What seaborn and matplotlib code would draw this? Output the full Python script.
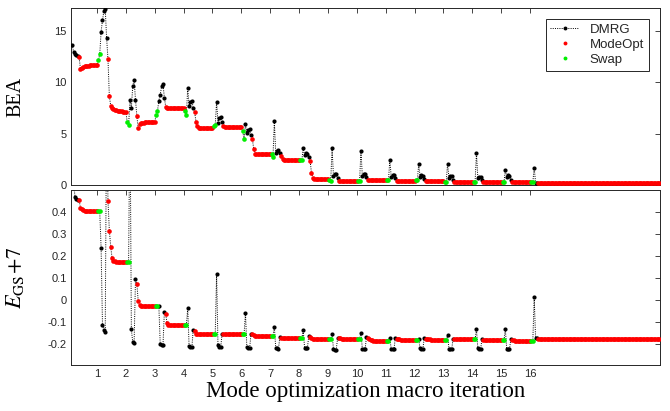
import numpy as np
import pandas as pd
import matplotlib
matplotlib.use("Agg")
import matplotlib.pyplot as plt
import seaborn as sns
from matplotlib.lines import Line2D

# ---------------- data ----------------
# one macro iteration = 21 optimisation steps: 2 Swap, n DMRG sweeps, ModeOpt rest
STEPS_PER_ITER = 21
iterations = list(range(17))

swap_bea = [[], [12.1, 12.7], [6.1, 5.8], [6.8, 7.2], [7.2, 6.8], [5.75, 5.8],
            [5.2, 4.45], [3.0, 2.7], [2.45, 2.4], [0.5, 0.42], [0.42, 0.42],
            [0.45, 0.45], [0.45, 0.45], [0.3, 0.3], [0.3, 0.3], [0.26, 0.26],
            [0.26, 0.26]]
swap_egs = [[], [0.403, 0.403], [0.173, 0.173], [-0.029, -0.029], [-0.115, -0.115],
            [-0.156, -0.156], [-0.153, -0.153], [-0.165, -0.165], [-0.174, -0.174],
            [-0.176, -0.176], [-0.176, -0.176], [-0.185, -0.185], [-0.182, -0.182],
            [-0.18, -0.18], [-0.179, -0.179], [-0.183, -0.183], [-0.185, -0.185]]

dmrg_bea = [
    [13.6, 12.9, 12.75, 12.6, 12.5],
    [14.9, 16.0, 16.9, 17.1, 14.3],
    [8.3, 7.5, 9.6, 10.2, 8.3],
    [8.2, 8.75, 9.6, 9.8, 8.5],
    [9.4, 7.7, 8.1, 8.2, 7.5],
    [8.1, 6.05, 6.5, 6.6, 6.1],
    [5.9, 5.05, 5.3, 5.4, 4.85],
    [6.2, 3.1, 3.35, 3.4, 3.1],
    [3.6, 2.9, 3.1, 3.0, 2.7],
    [3.55, 0.88, 1.05, 1.08, 0.66],
    [3.33, 0.88, 1.1, 1.05, 0.81],
    [2.45, 0.81, 1.0, 0.95, 0.65],
    [2.03, 0.82, 1.0, 0.9, 0.6],
    [2.05, 0.72, 0.88, 0.85, 0.52],
    [3.1, 0.72, 0.82, 0.82, 0.5],
    [1.44, 0.82, 0.98, 0.91, 0.49],
    [1.7, 0.23, 0.2],
]
dmrg_egs = [
    [0.62, 0.53, 0.47, 0.458, 0.455],
    [0.236, -0.114, -0.136, -0.144, 0.9],
    [0.9, -0.133, -0.192, -0.197, 0.094],
    [-0.029, -0.2, -0.206, -0.206, -0.053],
    [-0.038, -0.21, -0.214, -0.215, -0.135],
    [0.12, -0.206, -0.214, -0.215, -0.152],
    [-0.058, -0.215, -0.218, -0.22, -0.155],
    [-0.121, -0.217, -0.22, -0.222, -0.167],
    [-0.136, -0.218, -0.22, -0.22, -0.165],
    [-0.152, -0.223, -0.226, -0.226, -0.173],
    [-0.149, -0.221, -0.224, -0.224, -0.168],
    [-0.171, -0.223, -0.224, -0.224, -0.171],
    [-0.177, -0.22, -0.223, -0.223, -0.173],
    [-0.16, -0.221, -0.223, -0.223, -0.176],
    [-0.132, -0.22, -0.224, -0.224, -0.179],
    [-0.132, -0.221, -0.224, -0.224, -0.179],
    [0.012, -0.171, -0.174],
]

mode_bea = [
    [12.4, 11.3, 11.4, 11.48, 11.53, 11.56, 11.58, 11.6, 11.62, 11.63, 11.64, 11.65, 11.66, 11.67],
    [12.2, 8.6, 7.7, 7.45, 7.35, 7.3, 7.25, 7.22, 7.2, 7.18, 7.15, 7.12, 7.1, 7.1],
    [6.7, 5.5, 5.95, 6.0, 6.05, 6.05, 6.08, 6.1, 6.1, 6.1, 6.1, 6.1, 6.1, 6.1],
    [7.6, 7.5, 7.5, 7.48, 7.47, 7.46] + [7.45] * 8,
    [7.1, 6.15, 5.7, 5.55] + [5.5] * 10,
    [5.7] + [5.65] * 13,
    [4.5, 3.5, 3.05] + [3.0] * 11,
    [2.8, 2.5] + [2.45] * 12,
    [2.35, 1.2, 0.65] + [0.62] * 11,
    [0.42] + [0.36] * 13,
    [0.45] * 14,
    [0.39] * 14,
    [0.42, 0.41, 0.4] + [0.39] * 11,
    [0.3] * 14,
    [0.26] * 14,
    [0.26] * 14,
    [0.23] + [0.22] * 88,
]
mode_egs = [
    [0.455, 0.418, 0.412, 0.408, 0.406, 0.405, 0.404, 0.404] + [0.403] * 6,
    [0.45, 0.315, 0.242, 0.19, 0.177, 0.176, 0.175, 0.175, 0.174, 0.174, 0.173, 0.173, 0.173, 0.173],
    [0.074, -0.005, -0.022, -0.026, -0.027, -0.028, -0.028] + [-0.029] * 7,
    [-0.064, -0.106, -0.113] + [-0.115] * 11,
    [-0.142, -0.155] + [-0.156] * 12,
    [-0.152] * 7 + [-0.153] * 7,
    [-0.156, -0.159, -0.162, -0.164] + [-0.165] * 10,
    [-0.171, -0.172, -0.173] + [-0.174] * 11,
    [-0.168, -0.172, -0.175] + [-0.176] * 11,
    [-0.173, -0.174, -0.175] + [-0.176] * 11,
    [-0.173, -0.178, -0.181, -0.183, -0.184] + [-0.185] * 9,
    [-0.177, -0.178, -0.179, -0.18, -0.181] + [-0.182] * 9,
    [-0.176, -0.177, -0.178, -0.179] + [-0.18] * 10,
    [-0.177, -0.178] + [-0.179] * 12,
    [-0.18, -0.181, -0.182] + [-0.183] * 11,
    [-0.18, -0.182, -0.184] + [-0.185] * 11,
    [-0.176] + [-0.177] * 88,
]

x_ticks = list(range(1, 17))
x_tick_labels = [str(t) for t in x_ticks]
bea_ticks = [0, 5, 10, 15]
bea_tick_labels = ["0", "5", "10", "15"]
egs_ticks = [-0.2, -0.1, 0.0, 0.1, 0.2, 0.3, 0.4]
egs_tick_labels = ["-0.2", "-0.1", "0", "0.1", "0.2", "0.3", "0.4"]

# ---------------- build the step trace ----------------
rows = []
for k in iterations:
    seq = ([("Swap", b, e) for b, e in zip(swap_bea[k], swap_egs[k])]
           + [("DMRG", b, e) for b, e in zip(dmrg_bea[k], dmrg_egs[k])]
           + [("ModeOpt", b, e) for b, e in zip(mode_bea[k], mode_egs[k])])
    j0 = 1 if k > 0 else 3
    for i, (kind, b, e) in enumerate(seq):
        rows.append({"x": k + (j0 + i) / STEPS_PER_ITER, "bea": b, "egs": e, "kind": kind})
df = pd.DataFrame(rows)

# ---------------- plotting ----------------
sns.set_theme(style="white")
plt.rcParams["font.family"] = ["Liberation Sans", "DejaVu Sans"]
plt.rcParams["mathtext.fontset"] = "stix"

W, H = 670, 411
fig = plt.figure(figsize=(W / 100, H / 100), dpi=100)
L, R = 71, 660
ax1 = fig.add_axes([L / W, 1 - 185 / H, (R - L) / W, (185 - 8) / H])
ax2 = fig.add_axes([L / W, 1 - 365 / H, (R - L) / W, (365 - 190) / H])

colors = {"DMRG": "black", "ModeOpt": "#ff0000", "Swap": "#00ee00"}
sizes = {"DMRG": 9, "ModeOpt": 11, "Swap": 11}
edge = "#262626"

for ax, col in ((ax1, "bea"), (ax2, "egs")):
    sns.lineplot(data=df, x="x", y=col, ax=ax, sort=False, estimator=None,
                 color="black", linewidth=0.7, linestyle=(0, (1, 1.3)), legend=False)
    for kind in ("DMRG", "ModeOpt", "Swap"):
        sub = df[df["kind"] == kind]
        sns.scatterplot(data=sub, x="x", y=col, ax=ax, color=colors[kind], s=sizes[kind],
                        linewidth=0, legend=False, zorder=3)
    ax.set_xlim(0.1, 20.5)
    ax.set_xticks(x_ticks)
    ax.tick_params(direction="in", top=True, right=True, length=3.5, width=0.6,
                   labelsize=8, colors=edge, pad=3)
    for sp in ax.spines.values():
        sp.set_color(edge)
        sp.set_linewidth(0.7)
    ax.set_xlabel("")

ax1.set_ylim(0, 17.2)
ax1.set_yticks(bea_ticks)
ax1.set_yticklabels(bea_tick_labels)
ax1.set_xticklabels([])
ax1.set_ylabel("BEA", family="Liberation Serif", fontsize=14.5, color="black")

ax2.set_ylim(-0.295, 0.5)
ax2.set_yticks(egs_ticks)
ax2.set_yticklabels(egs_tick_labels)
ax2.set_xticklabels(x_tick_labels)
ax2.set_ylabel(r"$E_{\mathrm{GS}}\!+\!7$", fontsize=16, color="black")
ax2.set_xlabel("Mode optimization macro iteration", family="Liberation Serif",
               fontsize=16.5, color="black", labelpad=1)

ax1.yaxis.set_label_coords(-0.077, 0.5)
ax2.yaxis.set_label_coords(-0.077, 0.5)

handles = [
    Line2D([], [], color="black", linestyle=(0, (1, 1.3)), linewidth=0.7,
           marker="o", markersize=2.8, markeredgewidth=0),
    Line2D([], [], color=colors["ModeOpt"], linestyle="none", marker="o",
           markersize=2.8, markeredgewidth=0),
    Line2D([], [], color=colors["Swap"], linestyle="none", marker="o",
           markersize=2.8, markeredgewidth=0),
]
leg = ax1.legend(handles, ["DMRG", "ModeOpt", "Swap"], loc="upper right",
                 bbox_to_anchor=(0.981, 0.938), borderaxespad=0, fontsize=9.5,
                 frameon=True, fancybox=False, edgecolor=edge, framealpha=1,
                 handlelength=2.2, handletextpad=0.8, labelspacing=0.22,
                 borderpad=0.35)
leg.get_frame().set_linewidth(0.7)

fig.savefig("out.png", dpi=100)
